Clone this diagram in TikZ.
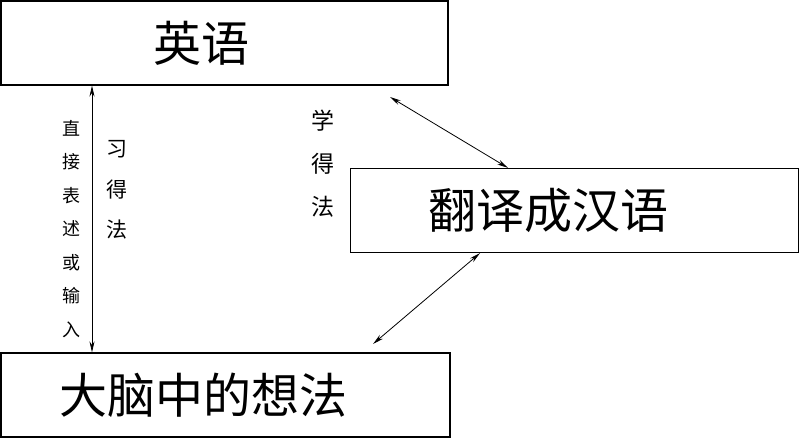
\documentclass[tikz,border=0pt]{standalone}
\usepackage{fontspec}
\setmainfont{Noto Sans CJK SC}
\usepackage{tikz}
\usetikzlibrary{arrows.meta, positioning, calc}

\tikzset{
  box/.style={draw, line width=1.2pt, minimum height=84pt, inner sep=0pt},
  big/.style={font=\fontsize{48}{48}\selectfont},
  link/.style={{Stealth[length=11pt,width=5pt]}-{Stealth[length=11pt,width=5pt]}, line width=0.8pt},
  vlabel/.style={align=center, inner sep=0pt}
}

\begin{document}
\begin{tikzpicture}[x=1pt, y=-1pt]
    \useasboundingbox (0,0) rectangle (800,438);

    \node[box, minimum width=447pt,
          label={[big, xshift=-23pt]center:英语}] (eng) at (224.5,43) {};
    \node[box, minimum width=448pt,
          label={[big, xshift=-26pt]center:翻译成汉语}] (trans) at (574.5,210.5) {};
    \node[box, minimum width=449pt,
          label={[big, xshift=-22pt]center:大脑中的想法}] (idea) at (225.5,395) {};

    % vertical arrow and its labels
    \coordinate (vx) at (92,0);
    \draw[link] (eng.south -| vx) -- (idea.north -| vx);
    \node[vlabel, font=\fontsize{18}{33.5}\selectfont] (direct) at (71,229)
      {直\\接\\表\\述\\或\\输\\入};
    \node[vlabel, font=\fontsize{21}{40.5}\selectfont] (acq) at (117,190)
      {习\\得\\法};
    \node[vlabel, font=\fontsize{23}{43}\selectfont] (learn) at (323,164)
      {学\\得\\法};

    % diagonal arrows
    \coordinate (a1) at (390,97);
    \coordinate (a2) at (373,344);
    \draw[link] (a1) -- (trans.north -| 508,0);
    \draw[link] (trans.south -| 480,0) -- (a2);
\end{tikzpicture}
\end{document}
